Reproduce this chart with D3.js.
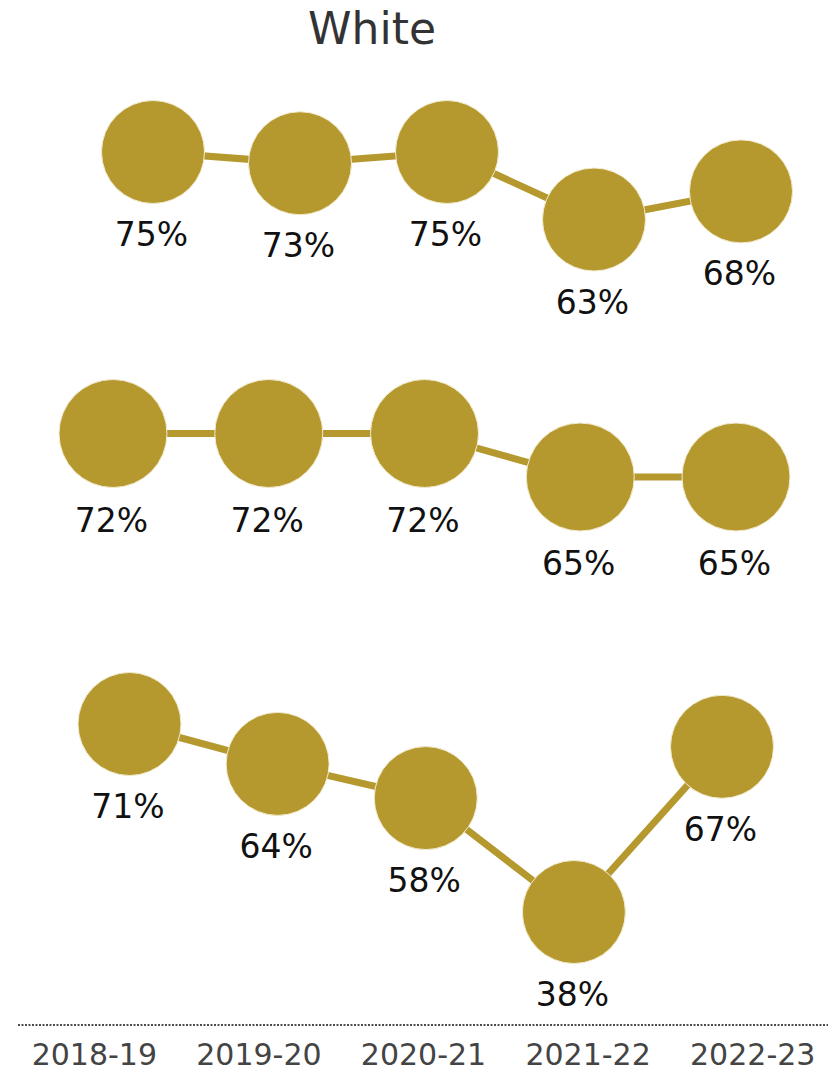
<!DOCTYPE html>
<html>
<head>
<meta charset="utf-8">
<script src="https://cdn.jsdelivr.net/npm/d3@7"></script>
<style>
  html, body { margin: 0; padding: 0; background: #ffffff; }
  svg { display: block; }
</style>
</head>
<body>
<div id="chart"></div>
<script>
// ---- data ----
const title = "White";
const years = ["2018-19", "2019-20", "2020-21", "2021-22", "2022-23"];
const row1 = [75, 73, 75, 63, 68];
const row2 = [72, 72, 72, 65, 65];
const row3 = [71, 64, 58, 38, 67];

// ---- layout ----
const W = 833, H = 1074;
const gold = "#b5992f";
const panels = [
  { values: row1, x: [153, 741], dom: [63, 75], rng: [219.5, 152], r: 51.5, off: 94 },
  { values: row2, x: [113, 736], dom: [65, 72], rng: [477, 433.5], r: 54, off: 98 },
  { values: row3, x: [129.5, 722], dom: [38, 71], rng: [912, 724], r: 51.5, off: 94 }
];

const svg = d3.select("#chart").append("svg")
  .attr("width", W).attr("height", H);

svg.append("text")
  .attr("x", 372).attr("y", 44)
  .attr("text-anchor", "middle")
  .style("font-family", "'DejaVu Sans', sans-serif")
  .style("font-size", "44px")
  .style("fill", "#333333")
  .text(title);

panels.forEach(p => {
  const x = d3.scalePoint().domain(years).range(p.x);
  const y = d3.scaleLinear().domain(p.dom).range(p.rng);
  const data = years.map((yr, i) => ({ yr, v: p.values[i] }));
  const g = svg.append("g");
  g.append("path")
    .datum(data)
    .attr("fill", "none")
    .attr("stroke", gold)
    .attr("stroke-width", 7)
    .attr("d", d3.line().x(d => x(d.yr)).y(d => y(d.v)));
  g.selectAll("circle").data(data).join("circle")
    .attr("cx", d => x(d.yr))
    .attr("cy", d => y(d.v))
    .attr("r", p.r)
    .attr("fill", gold)
    .attr("stroke", "#f3ecd2")
    .attr("stroke-width", 1);
  g.selectAll("text.lbl").data(data).join("text")
    .attr("class", "lbl")
    .attr("x", d => x(d.yr) - 1.5)
    .attr("y", d => y(d.v) + p.off)
    .attr("text-anchor", "middle")
    .style("font-family", "'DejaVu Sans', sans-serif")
    .style("font-size", "33px")
    .style("fill", "#111111")
    .text(d => d.v + "%");
});

// ---- bottom axis ----
const xb = d3.scaleBand().domain(years).range([12, 835]);
svg.append("line")
  .attr("x1", 18).attr("x2", 828)
  .attr("y1", 1025).attr("y2", 1025)
  .attr("stroke", "#111111")
  .attr("stroke-width", 1.5)
  .attr("stroke-dasharray", "2,1.5");
const axis = svg.append("g").attr("transform", "translate(0,1025)")
  .call(d3.axisBottom(xb).tickSize(0).tickPadding(0));
axis.select(".domain").remove();
axis.selectAll("text")
  .attr("y", 40)
  .attr("dy", 0)
  .style("font-family", "'DejaVu Sans', sans-serif")
  .style("font-size", "30px")
  .style("fill", "#444444");
</script>
</body>
</html>
